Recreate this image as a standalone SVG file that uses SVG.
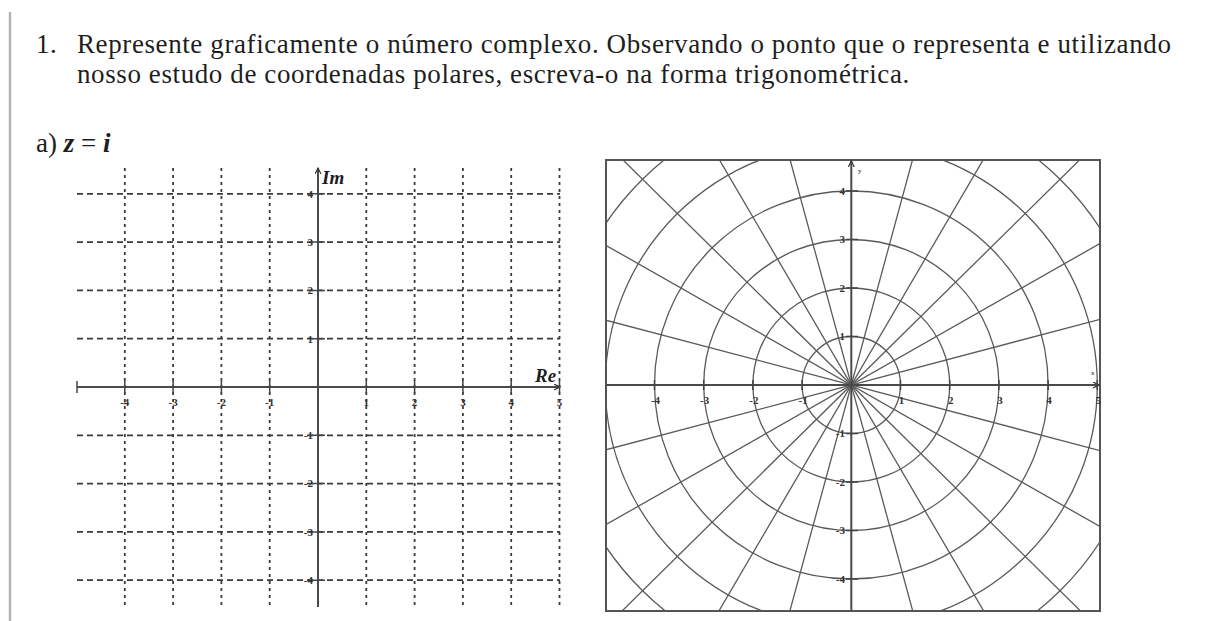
<svg xmlns="http://www.w3.org/2000/svg" width="1205" height="621" viewBox="0 0 1205 621">
<defs>
<style>
.t{font-family:"Liberation Serif","Times New Roman",serif;fill:#1e1e1e}
.title{font-size:27px;letter-spacing:0.6px}
.bi{font-weight:bold;font-style:italic}
.lab{font-family:"Liberation Serif",serif;font-size:11px;font-weight:bold;fill:#333}
.hd{stroke:#3a3a3a;stroke-width:1.8;stroke-dasharray:6 4;fill:none}
.vd{stroke:#3a3a3a;stroke-width:1.8;stroke-dasharray:3 4;fill:none}
.ax{stroke:#4a4a4a;stroke-width:2;fill:none}
.tk{stroke:#444;stroke-width:1.5}
.pg{stroke:#5a5a5a;stroke-width:1.3;fill:none;vector-effect:non-scaling-stroke}
</style>
<marker id="arr" markerWidth="8" markerHeight="8" refX="6" refY="3" orient="auto" markerUnits="userSpaceOnUse">
<path d="M0,0 L6,3 L0,6" fill="none" stroke="#333" stroke-width="1.2"/>
</marker>
<clipPath id="box"><rect x="606" y="160" width="494" height="451"/></clipPath>
</defs>
<rect width="1205" height="621" fill="#fff"/>
<line x1="10" y1="12" x2="10" y2="621" stroke="#b4b4b4" stroke-width="2.5"/>

<g id="title">
<text class="t title" x="36" y="53">1.</text>
<text class="t title" x="77" y="53">Represente graficamente o número complexo. Observando o ponto que o representa e utilizando</text>
<text class="t title" x="77" y="83">nosso estudo de coordenadas polares, escreva-o na forma trigonométrica.</text>
<text class="t" x="36" y="152" font-size="27">a) <tspan class="bi">z</tspan> = <tspan class="bi">i</tspan></text>
</g>

<g id="cartesian-grid">
<g id="h-dashes">
<line class="hd" x1="77" y1="193.8" x2="560" y2="193.8"/>
<line class="hd" x1="77" y1="242.1" x2="560" y2="242.1"/>
<line class="hd" x1="77" y1="290.4" x2="560" y2="290.4"/>
<line class="hd" x1="77" y1="338.7" x2="560" y2="338.7"/>
<line class="hd" x1="77" y1="435.3" x2="560" y2="435.3"/>
<line class="hd" x1="77" y1="483.6" x2="560" y2="483.6"/>
<line class="hd" x1="77" y1="531.9" x2="560" y2="531.9"/>
<line class="hd" x1="77" y1="580.2" x2="560" y2="580.2"/>
</g>
<g id="v-dashes">
<line class="vd" x1="124.8" y1="168" x2="124.8" y2="607"/>
<line class="vd" x1="173.1" y1="168" x2="173.1" y2="607"/>
<line class="vd" x1="221.4" y1="168" x2="221.4" y2="607"/>
<line class="vd" x1="269.7" y1="168" x2="269.7" y2="607"/>
<line class="vd" x1="366.3" y1="168" x2="366.3" y2="607"/>
<line class="vd" x1="414.6" y1="168" x2="414.6" y2="607"/>
<line class="vd" x1="462.9" y1="168" x2="462.9" y2="607"/>
<line class="vd" x1="511.2" y1="168" x2="511.2" y2="607"/>
<line class="vd" x1="559.5" y1="168" x2="559.5" y2="607"/>
</g>
<g id="c-axes">
<line class="ax" x1="77" y1="387" x2="560" y2="387" marker-end="url(#arr)"/>
<line class="ax" x1="318" y1="607" x2="318" y2="168" marker-end="url(#arr)"/>
<path class="tk" d="M77,381V393M124.8,381V393M173.1,381V393M221.4,381V393M269.7,381V393M366.3,381V393M414.6,381V393M462.9,381V393M511.2,381V393M559.5,381V393"/>
<path class="tk" d="M312,193.8H325M312,242.1H325M312,290.4H325M312,338.7H325M312,435.3H325M312,483.6H325M312,531.9H325M312,580.2H325"/>
</g>
<g id="c-labels">
<text class="lab" x="124.8" y="406" text-anchor="middle">-4</text>
<text class="lab" x="173.1" y="406" text-anchor="middle">-3</text>
<text class="lab" x="221.4" y="406" text-anchor="middle">-2</text>
<text class="lab" x="269.7" y="406" text-anchor="middle">-1</text>
<text class="lab" x="366.3" y="406" text-anchor="middle">1</text>
<text class="lab" x="414.6" y="406" text-anchor="middle">2</text>
<text class="lab" x="462.9" y="406" text-anchor="middle">3</text>
<text class="lab" x="511.2" y="406" text-anchor="middle">4</text>
<text class="lab" x="559.5" y="406" text-anchor="middle">5</text>
<text class="lab" x="313" y="197.6" text-anchor="end">4</text>
<text class="lab" x="313" y="245.9" text-anchor="end">3</text>
<text class="lab" x="313" y="294.2" text-anchor="end">2</text>
<text class="lab" x="313" y="342.5" text-anchor="end">1</text>
<text class="lab" x="313" y="439.1" text-anchor="end">-1</text>
<text class="lab" x="313" y="487.4" text-anchor="end">-2</text>
<text class="lab" x="313" y="535.7" text-anchor="end">-3</text>
<text class="lab" x="313" y="584" text-anchor="end">-4</text>
<text class="t bi" x="322" y="184" font-size="19">Im</text>
<text class="t bi" x="535" y="382" font-size="19">Re</text>
</g>
</g>

<g id="polar-grid">
<g clip-path="url(#box)">
<g transform="translate(851.3,385) scale(49.2,-48.5)">
<circle class="pg" cx="0" cy="0" r="1"/>
<circle class="pg" cx="0" cy="0" r="2"/>
<circle class="pg" cx="0" cy="0" r="3"/>
<circle class="pg" cx="0" cy="0" r="4"/>
<circle class="pg" cx="0" cy="0" r="5"/>
<circle class="pg" cx="0" cy="0" r="6"/>
<line class="pg" x1="-7.727" y1="-2.070" x2="7.727" y2="2.070"/>
<line class="pg" x1="-6.928" y1="-4" x2="6.928" y2="4"/>
<line class="pg" x1="-5.657" y1="-5.657" x2="5.657" y2="5.657"/>
<line class="pg" x1="-4" y1="-6.928" x2="4" y2="6.928"/>
<line class="pg" x1="-2.070" y1="-7.727" x2="2.070" y2="7.727"/>
<line class="pg" x1="2.070" y1="-7.727" x2="-2.070" y2="7.727"/>
<line class="pg" x1="4" y1="-6.928" x2="-4" y2="6.928"/>
<line class="pg" x1="5.657" y1="-5.657" x2="-5.657" y2="5.657"/>
<line class="pg" x1="6.928" y1="-4" x2="-6.928" y2="4"/>
<line class="pg" x1="7.727" y1="-2.070" x2="-7.727" y2="2.070"/>
</g>
</g>
<rect x="606" y="160" width="494" height="451" fill="none" stroke="#555" stroke-width="2"/>
<g id="p-axes">
<line class="ax" x1="606" y1="385" x2="1099" y2="385" marker-end="url(#arr)"/>
<line class="ax" x1="851.3" y1="611" x2="851.3" y2="161" marker-end="url(#arr)"/>
<path class="tk" d="M654.5,380V390M703.7,380V390M752.9,380V390M802.1,380V390M900.5,380V390M949.7,380V390M998.9,380V390M1048.1,380V390M1097.3,380V390"/>
<path class="tk" d="M846,191H858M846,239.5H858M846,288H858M846,336.5H858M846,433.5H858M846,482H858M846,530.5H858M846,579H858"/>
</g>
<g id="p-labels">
<text class="lab" x="655.5" y="404" text-anchor="middle">-4</text>
<text class="lab" x="704.7" y="404" text-anchor="middle">-3</text>
<text class="lab" x="753.9" y="404" text-anchor="middle">-2</text>
<text class="lab" x="803.1" y="404" text-anchor="middle">-1</text>
<text class="lab" x="901.5" y="404" text-anchor="middle">1</text>
<text class="lab" x="950.7" y="404" text-anchor="middle">2</text>
<text class="lab" x="999.9" y="404" text-anchor="middle">3</text>
<text class="lab" x="1049.1" y="404" text-anchor="middle">4</text>
<text class="lab" x="1098.3" y="404" text-anchor="middle">5</text>
<text class="lab" x="845" y="194.8" text-anchor="end">4</text>
<text class="lab" x="845" y="243.3" text-anchor="end">3</text>
<text class="lab" x="845" y="291.8" text-anchor="end">2</text>
<text class="lab" x="845" y="340.3" text-anchor="end">1</text>
<text class="lab" x="845" y="437.3" text-anchor="end">-1</text>
<text class="lab" x="845" y="485.8" text-anchor="end">-2</text>
<text class="lab" x="845" y="534.3" text-anchor="end">-3</text>
<text class="lab" x="845" y="582.8" text-anchor="end">-4</text>
<text class="t" x="858" y="173" font-size="7">y</text>
<text class="t" x="1091" y="375" font-size="7">x</text>
</g>
</g>
</svg>
